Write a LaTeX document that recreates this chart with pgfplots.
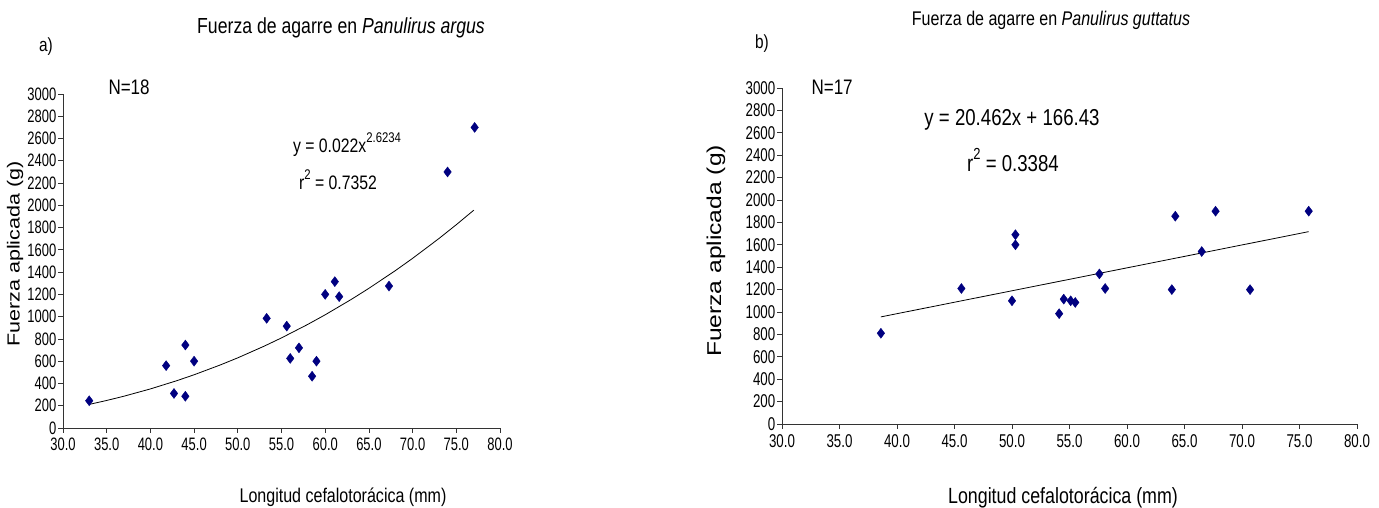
\documentclass[border=0pt]{standalone}
\usepackage{pgfplots}
\pgfplotsset{compat=1.18}
\usepackage{fontspec}
\setmainfont{Liberation Sans}
% the original chart was squeezed sideways: narrow horizontal text, long vertical text
\newfontfamily\nf{Liberation Sans}[FakeStretch=0.81]
\newfontfamily\tf{Liberation Sans}[FakeStretch=0.72]
\newfontfamily\vf{Liberation Sans}[FakeStretch=1.23]
\definecolor{navy}{RGB}{0,0,128}

\pgfplotstableread{
x y
33.0 245
41.8 560
42.7 310
44.0 745
44.0 285
45.0 600
53.3 985
55.6 915
56.0 625
57.0 720
58.5 465
59.0 600
60.0 1200
61.1 1315
61.6 1180
67.3 1275
74.0 2300
77.1 2700
}\argus

\pgfplotstableread{
x y
33 211.9
35 247.3
37 286.1
40 351.0
43 424.3
45 478.1
48 566.3
50 630.3
53 734.4
55 809.3
58 930.3
60 1016.8
63 1155.7
65 1254.5
68 1412.1
70 1523.7
73 1701.0
75 1826.0
77 1956.5
}\argusfit

\pgfplotstableread{
x y
38.6 810
45.6 1210
50.0 1100
50.3 1690
50.3 1600
54.1 985
54.5 1115
55.1 1100
55.5 1085
57.6 1340
58.1 1210
63.9 1200
64.2 1855
66.5 1540
67.7 1900
70.7 1200
75.8 1900
}\guttatus

\pgfplotsset{
  lobster/.style={
    scale only axis,
    anchor=south west,
    xmin=30, xmax=80, ymin=0, ymax=3000,
    xtick distance=5, ytick distance=200,
    axis x line*=bottom, axis y line*=left,
    axis line style={black!80, line width=0.8pt},
    tick align=outside,
    major tick length=5pt,
    tick style={black!80, line width=0.8pt},
    /pgf/number format/assume math mode=true,
    xticklabel style={/pgf/number format/fixed, /pgf/number format/fixed zerofill, /pgf/number format/precision=1,
      inner ysep=0pt, yshift=-5pt},
    yticklabel style={/pgf/number format/fixed, /pgf/number format/1000 sep={}, inner xsep=1.5pt, inner ysep=0pt},
    clip=false,
  },
  pts/.style={only marks, mark=diamond*, mark size=5pt, color=navy},
  fit/.style={black, line width=0.8pt, no marks},
}

\begin{document}
\begin{tikzpicture}[x=1pt,y=1pt]
\path[use as bounding box] (0,0) rectangle (1379,508);

\begin{axis}[lobster, at={(63pt,80pt)}, width=437pt, height=334pt,
  tick label style={font=\fontsize{18}{18}\tf}]
\addplot[fit] table {\argusfit};
\addplot[pts] table {\argus};
\end{axis}

\begin{axis}[lobster, at={(782pt,84pt)}, width=575pt, height=336pt,
  tick label style={font=\fontsize{18.5}{18.5}\tf}]
\addplot[fit] coordinates {(38.6,956.3) (75.8,1717.4)};
\addplot[pts] table {\guttatus};
\end{axis}

% panel a texts
\node[font=\fontsize{21.8}{22}\nf] at (341,480) {Fuerza de agarre en \textit{Panulirus argus}};
\node[font=\fontsize{19}{19}\nf] at (46,461) {a)};
\node[font=\fontsize{21}{21}\nf, anchor=west] at (105,421) {N=18};
\node[font=\fontsize{19.5}{20}\nf] at (347,363) {y = 0.022x\raisebox{0.5em}{\fontsize{14}{14}\nf 2.6234}};
\node[font=\fontsize{19.5}{20}\nf] at (338,328) {r\raisebox{0.5em}{\fontsize{14}{14}\nf 2} = 0.7352};
\node[font=\fontsize{19.8}{20}\nf] at (343,11) {Longitud cefalotorácica (mm)};
\node[font=\fontsize{17.5}{17.5}\vf, rotate=90] at (15,254) {Fuerza aplicada (g)};

% panel b texts
\node[font=\fontsize{19.8}{20}\nf] at (1051,488) {Fuerza de agarre en \textit{Panulirus guttatus}};
\node[font=\fontsize{19}{19}\nf] at (762,464) {b)};
\node[font=\fontsize{21}{21}\nf, anchor=west] at (808,421) {N=17};
\node[font=\fontsize{23}{23}\nf] at (1012,388) {y = 20.462x + 166.43};
\node[font=\fontsize{23}{23}\nf] at (1013,348) {r\raisebox{0.5em}{\fontsize{16}{16}\nf 2} = 0.3384};
\node[font=\fontsize{22}{22}\nf] at (1063,10) {Longitud cefalotorácica (mm)};
\node[font=\fontsize{20}{20}\vf, rotate=90] at (716,257) {Fuerza aplicada (g)};
\end{tikzpicture}
\end{document}
